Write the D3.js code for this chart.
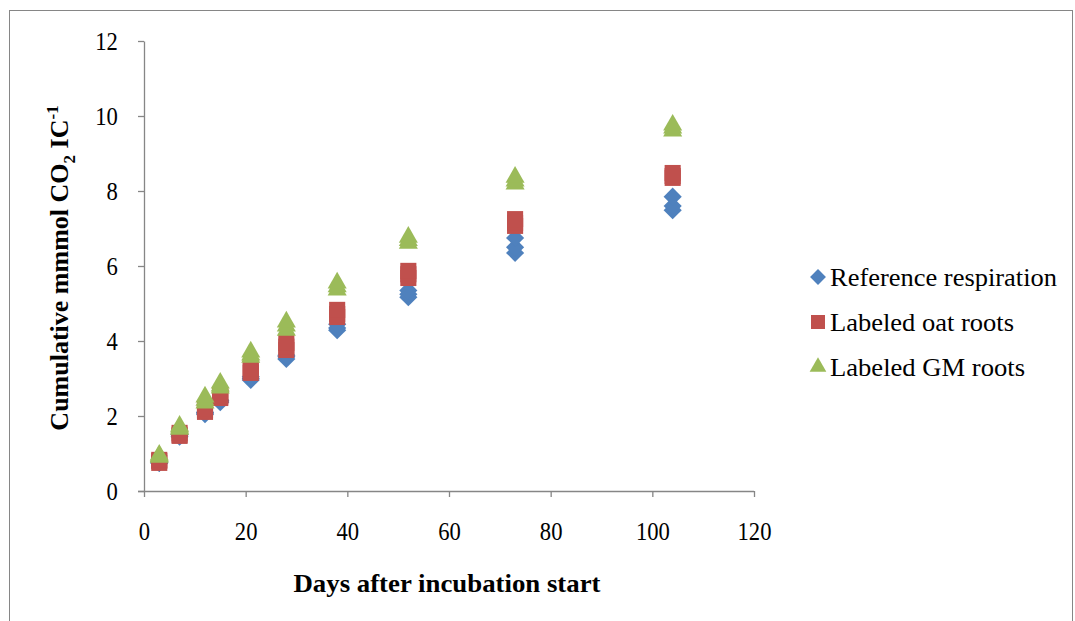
<!DOCTYPE html>
<html>
  <head>
    <meta charset="utf-8" />
    <title>Cumulative CO2</title>
    <script src="https://cdn.jsdelivr.net/npm/d3@7"></script>
    <style>
      body { margin: 0; background: #fff; }
      text { font-family: "Liberation Serif", "Times New Roman", serif; fill: #000; }
    </style>
  </head>
  <body>
    <script>
      // replicate readings per sampling day
      const days = [3, 7, 12, 15, 21, 28, 38, 52, 73, 104];
      const refResp = [
        [0.75, 0.75, 0.78], [1.45, 1.5, 1.5], [2.05, 2.08, 2.1], [2.37, 2.4, 2.42],
        [2.96, 3.0, 3.05], [3.52, 3.58, 3.62], [4.29, 4.35, 4.45], [5.17, 5.25, 5.35],
        [6.35, 6.5, 6.75], [7.49, 7.6, 7.85]
      ];
      const oatRoots = [
        [0.75, 0.8, 0.83], [1.47, 1.5, 1.55], [2.11, 2.15, 2.21], [2.48, 2.52, 2.56],
        [3.15, 3.2, 3.28], [3.76, 3.85, 3.95], [4.64, 4.72, 4.83], [5.68, 5.78, 5.87],
        [7.07, 7.15, 7.25], [8.35, 8.4, 8.48]
      ];
      const gmRoots = [
        [0.9, 0.93, 0.96], [1.65, 1.68, 1.73], [2.35, 2.42, 2.51], [2.75, 2.8, 2.88],
        [3.57, 3.63, 3.71], [4.29, 4.4, 4.51], [5.36, 5.45, 5.55], [6.61, 6.68, 6.77],
        [8.19, 8.27, 8.37], [9.6, 9.68, 9.76]
      ];
      const xTicks = [0, 20, 40, 60, 80, 100, 120];
      const yTicks = [0, 2, 4, 6, 8, 10, 12];
      const seriesNames = ["Reference respiration", "Labeled oat roots", "Labeled GM roots"];

      const w = 1075, h = 621;
      const x = d3.scaleLinear().domain([0, 120]).range([144, 754]);
      const y = d3.scaleLinear().domain([0, 12]).range([491, 41]);

      const svg = d3.select("body").append("svg").attr("width", w).attr("height", h);

      // chart frame
      svg.append("rect")
        .attr("x", 9.5).attr("y", 10.5).attr("width", 1063).attr("height", 640)
        .attr("fill", "none").attr("stroke", "#868686");

      const xAxis = d3.axisBottom(x).tickValues(xTicks).tickSize(6).tickPadding(25).tickSizeOuter(0);
      const yAxis = d3.axisLeft(y).tickValues(yTicks).tickSize(6).tickPadding(24).tickSizeOuter(0);

      const gx = svg.append("g").attr("transform", "translate(0,491)").call(xAxis);
      const gy = svg.append("g").attr("transform", "translate(144,0)").call(yAxis);
      [gx, gy].forEach(g => {
        g.selectAll("path, line").attr("stroke", "#868686").attr("stroke-width", 1.3);
        // the original face is a bit narrow, squeeze it
        g.selectAll("text").style("font-size", "26px").attr("fill", "#000")
          .attr("transform", "scale(0.87,1)");
      });
      gx.select(".domain").attr("d", "M138,0.5H754");

      const mk = {
        diamond: d3.symbol().type(d3.symbolDiamond2).size(210),
        square: d3.symbol().type(d3.symbolSquare2).size(330),
        triangle: d3.symbol().type(d3.symbolTriangle2).size(260)
      };
      const series = [
        { name: seriesNames[0], vals: refResp, color: "#4f81bd", sym: mk.diamond, leg: d3.symbol().type(d3.symbolDiamond2).size(160), tl: 227 },
        { name: seriesNames[1], vals: oatRoots, color: "#c0504d", sym: mk.square, leg: d3.symbol().type(d3.symbolSquare2).size(250), tl: 184 },
        { name: seriesNames[2], vals: gmRoots, color: "#9bbb59", sym: mk.triangle, leg: d3.symbol().type(d3.symbolTriangle2).size(200), tl: 195 }
      ];

      series.forEach(s => {
        const pts = [];
        s.vals.forEach((reps, i) => reps.forEach(v => pts.push([days[i], v])));
        svg.append("g").selectAll("path").data(pts).enter().append("path")
          .attr("d", s.sym)
          .attr("transform", d => "translate(" + x(d[0]) + "," + y(d[1]) + ")")
          .attr("fill", s.color);
      });

      // legend
      const leg = svg.append("g");
      series.forEach((s, i) => {
        const ly = 277 + i * 45;
        leg.append("path").attr("d", s.leg()).attr("transform", "translate(818," + ly + ")").attr("fill", s.color);
        leg.append("text").attr("x", 830).attr("y", ly + 9).style("font-size", "26px")
          .attr("textLength", s.tl).attr("lengthAdjust", "spacingAndGlyphs").text(s.name);
      });

      // axis titles
      svg.append("text").attr("x", 447).attr("y", 592).attr("text-anchor", "middle")
        .style("font-size", "26px").style("font-weight", "bold")
        .attr("textLength", 307).attr("lengthAdjust", "spacingAndGlyphs")
        .text("Days after incubation start");

      const yt = svg.append("text").attr("transform", "translate(68,268) rotate(-90)")
        .attr("text-anchor", "middle").style("font-size", "26px").style("font-weight", "bold");
      yt.append("tspan").text("Cumulative mmmol CO");
      yt.append("tspan").attr("dy", 7).style("font-size", "17px").text("2");
      yt.append("tspan").attr("dy", -7).text(" IC");
      yt.append("tspan").attr("dy", -10).style("font-size", "17px").text("-1");
    </script>
  </body>
</html>
